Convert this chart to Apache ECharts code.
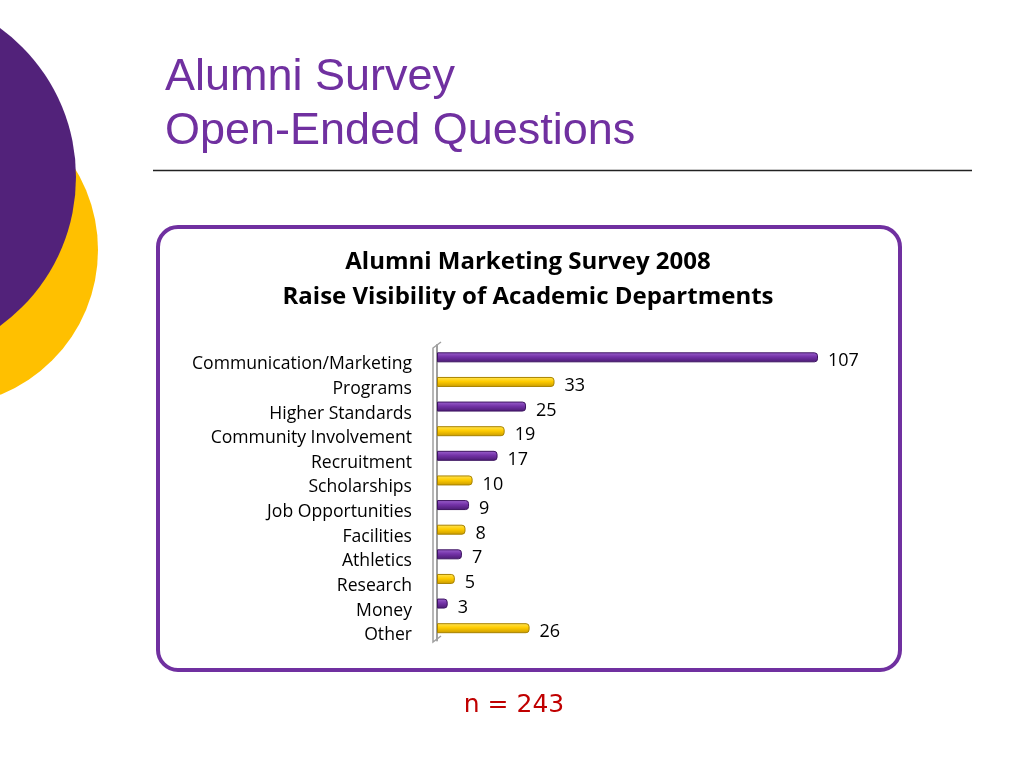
<!DOCTYPE html>
<html>
<head>
<meta charset="utf-8">
<script src="https://cdn.jsdelivr.net/npm/echarts@6/dist/echarts.min.js"></script>
<style>html,body{margin:0;padding:0;background:#fff;}#c{width:1024px;height:768px;}</style>
</head>
<body>
<div id="c"></div>
<script>
const categories = ["Communication/Marketing","Programs","Higher Standards","Community Involvement","Recruitment","Scholarships","Job Opportunities","Facilities","Athletics","Research","Money","Other"];
const values = [107,33,25,19,17,10,9,8,7,5,3,26];
const barColors = ["purple","yellow","purple","yellow","purple","yellow","purple","yellow","purple","yellow","purple","yellow"];
const slideTitle = ["Alumni Survey","Open-Ended Questions"];
const chartTitle = ["Alumni Marketing Survey 2008","Raise Visibility of Academic Departments"];
const footnote = "n = 243";

const styles = {
  purple: {
    color: {type:'linear',x:0,y:0,x2:0,y2:1,colorStops:[{offset:0,color:'#9d63cf'},{offset:0.45,color:'#7433a8'},{offset:1,color:'#4a1a72'}]},
    borderColor:'#3d1460'
  },
  yellow: {
    color: {type:'linear',x:0,y:0,x2:0,y2:1,colorStops:[{offset:0,color:'#ffe55a'},{offset:0.45,color:'#ffcc00'},{offset:1,color:'#c99a00'}]},
    borderColor:'#a88300'
  }
};

const chart = echarts.init(document.getElementById('c'));
const barData = values.map((v,i)=>({value:v,itemStyle:Object.assign({borderWidth:1,borderRadius:[0,3,3,0]},styles[barColors[i]])}));

chart.setOption({
  animation:false,
  title:{
    text: chartTitle.join('\n'),
    left: 528, top: 245, textAlign:'center', padding:0,
    textStyle:{fontFamily:'Open Sans',fontWeight:'bold',fontSize:24,color:'#000',lineHeight:35}
  },
  grid:{left:437,top:345,width:427.3,height:295.5,containLabel:false},
  xAxis:{type:'value',min:0,max:120,show:false},
  yAxis:{type:'category',data:categories,inverse:true,
    axisLine:{show:true,lineStyle:{color:'#a0a0a0',width:2}},
    axisTick:{show:false},
    axisLabel:{margin:25,formatter:v=>'{a|'+v+'}',
      rich:{a:{fontFamily:'Open Sans',fontSize:17.6,color:'#000',padding:[14,0,0,0]}}}
  },
  series:[{type:'bar',data:barData,barWidth:10,
    label:{show:true,position:'right',distance:10,offset:[0,4],fontFamily:'Open Sans',fontSize:18,color:'#000'}
  }],
  graphic:[
    {type:'circle',z:-10,shape:{cx:-58,cy:250,r:156},style:{fill:'#ffc000'}},
    {type:'circle',z:-9,shape:{cx:-108,cy:177,r:184},style:{fill:'#52227a'}},
    {type:'text',left:165,top:55,style:{text:slideTitle[0],font:'45px "Liberation Sans"',fill:'#7030a0'}},
    {type:'text',left:165,top:109,style:{text:slideTitle[1],font:'45px "Liberation Sans"',fill:'#7030a0'}},
    {type:'line',shape:{x1:153,y1:170.5,x2:972,y2:170.5},style:{stroke:'#222',lineWidth:1.5}},
    {type:'rect',z:-5,shape:{x:158,y:227,width:742,height:443,r:20},style:{fill:'none',stroke:'#7030a0',lineWidth:4}},
    {type:'polyline',shape:{points:[[441,342],[433,348],[433,642],[441,636]]},style:{stroke:'#a0a0a0',lineWidth:1.5,fill:'none'}},
    {type:'text',x:514,y:705,style:{text:footnote,font:'25px "DejaVu Sans"',fill:'#c00000',align:'center',verticalAlign:'middle'}}
  ]
});
</script>
</body>
</html>
